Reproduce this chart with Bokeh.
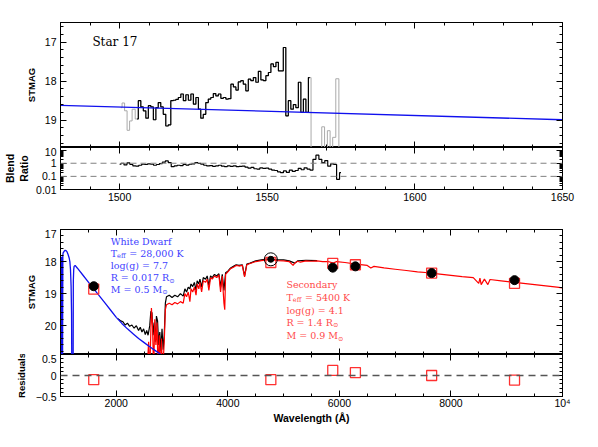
from bokeh.plotting import figure
from bokeh.layouts import column
from bokeh.models import (Range1d, LinearAxis, LogAxis, FixedTicker, Grid,
                          SingleIntervalTicker, Span, Label, ColumnDataSource)
from bokeh.embed import file_html
from bokeh.resources import INLINE

# ---------------- data ----------------
# HST UV spectrum (top panel), STMAG per bin
hst_wave = [1505.9, 1506.8, 1507.6, 1508.5, 1509.3, 1510.2, 1511.0, 1511.9, 1512.7, 1513.5,
            1514.4, 1515.2, 1516.1, 1516.9, 1517.8, 1518.6, 1519.5, 1520.3, 1521.2, 1522.0,
            1522.9, 1523.7, 1524.6, 1525.4, 1526.3, 1527.1, 1527.9, 1528.8, 1529.6, 1530.5,
            1531.3, 1532.2, 1533.0, 1533.9, 1534.7, 1535.6, 1536.4, 1537.3, 1538.1, 1539.0,
            1539.8, 1540.6, 1541.5, 1542.3, 1543.2, 1544.0, 1544.9, 1545.7, 1546.6, 1547.4,
            1548.3, 1549.1, 1550.0, 1550.8, 1551.7, 1552.5, 1553.4, 1554.2, 1555.0, 1555.9,
            1556.7, 1557.6, 1558.4, 1559.3, 1560.1, 1561.0, 1561.8, 1562.7, 1563.5, 1564.4]
hst_mag = [18.97, 18.50, 18.66, 18.76, 18.95, 18.63, 18.66, 18.99, 18.68, 18.55,
           18.66, 18.85, 19.15, 19.12, 18.50, 18.49, 18.47, 18.42, 18.33, 18.50,
           18.35, 18.49, 18.33, 18.59, 18.42, 18.72, 18.95, 18.85, 18.55, 18.46,
           18.42, 18.32, 18.38, 18.33, 18.44, 18.42, 18.46, 18.45, 18.08, 18.15,
           18.23, 18.02, 17.99, 18.08, 18.25, 17.95, 17.99, 17.91, 18.03, 17.75,
           17.97, 17.99, 17.86, 17.78, 17.56, 17.63, 17.52, 17.74, 17.74, 17.14,
           18.89, 18.50, 18.72, 18.60, 18.68, 18.03, 18.80, 18.46, 18.80, 17.91]
# masked (grey) bins at both ends
grey_left_wave = [1500.4, 1501.3, 1502.1, 1503.0, 1503.8, 1504.7]
grey_left_mag = [18.68, 18.56, 18.76, 19.26, 19.02, 18.72]
grey_right_wave = [1565.3, 1566.2, 1567.1, 1568.0, 1568.95, 1569.9, 1570.85, 1571.75,
                   1572.6, 1573.85, 1574.7]
grey_right_mag = [21.5, 21.5, 21.5, 21.5, 19.17, 21.5, 19.27, 21.5, 19.44, 17.94, 21.5]
# white dwarf model in the UV window
uv_wd_wave = [1480, 1650]
uv_wd_mag = [18.62, 18.99]

# blend ratio
ratio_wave = [1500, 1501, 1502, 1503, 1504, 1505, 1506, 1507, 1508, 1509, 1510, 1511, 1512,
              1513, 1514, 1515, 1516, 1517, 1518, 1519, 1520, 1521, 1522, 1523, 1524, 1525,
              1526, 1527, 1528, 1529, 1530, 1531, 1532, 1533, 1534, 1535, 1536, 1537, 1538,
              1539, 1540, 1541, 1542, 1543, 1544, 1545, 1546, 1547, 1548, 1549, 1550, 1551,
              1552, 1553, 1554, 1555, 1556, 1557, 1558, 1559, 1560, 1561, 1562, 1563, 1564,
              1565, 1566, 1567, 1568, 1569, 1570, 1571, 1572, 1573, 1574, 1575]
ratio_val = [0.84, 1.0, 0.75, 1.05, 0.8, 0.62, 0.6, 0.7, 0.84, 0.8, 0.9, 0.84, 0.7,
             0.8, 0.95, 1.2, 1.5, 1.1, 0.55, 0.62, 0.7, 0.65, 0.8, 0.72, 0.84, 0.9,
             1.1, 1.0, 0.85, 0.7, 0.62, 0.66, 0.58, 0.62, 0.7, 0.6, 0.56, 0.62, 0.58,
             0.64, 0.55, 0.58, 0.6, 0.5, 0.42, 0.48, 0.38, 0.36, 0.44, 0.4, 0.42, 0.36,
             0.3, 0.28, 0.22, 0.19, 0.26, 0.2, 0.3, 0.24, 0.28, 0.4, 0.32, 0.45, 0.36,
             0.3, 2.0, 4.1, 2.0, 1.1, 1.6, 0.6, 0.9, 0.8, 0.06, 0.19]
ratio_levels = [1, 0.1]

# white dwarf model SED
wd_wave = [1000, 1004, 1008, 1012, 1016, 1020, 1025, 1030, 1036, 1042,
           1047, 1065, 1083, 1100, 1118, 1136, 1154, 1168, 1179, 1190,
           1198, 1203, 1226, 1230, 1237, 1244, 1262, 1300, 1400, 1500,
           1600, 1700, 1800, 1900, 2000, 2100, 2200, 2300, 2400, 2500,
           2600, 2700, 2800, 2850]
wd_mag = [21.5, 18.0, 21.5, 17.9, 21.5, 17.85, 21.5, 17.85, 21.5, 17.8,
          17.73, 17.68, 17.65, 17.66, 17.70, 17.78, 17.88, 18.0, 18.25, 18.77,
          19.6, 21.5, 21.5, 18.6, 18.25, 18.15, 18.12, 18.2, 18.42, 18.64,
          18.86, 19.08, 19.3, 19.52, 19.74, 19.93, 20.1, 20.25, 20.4, 20.53,
          20.66, 20.78, 20.9, 21.0]

# composite (observed) spectrum
comp_wave = [2030, 2080, 2120, 2160, 2200, 2240, 2280, 2320, 2360, 2400,
             2430, 2460, 2490, 2520, 2545, 2570, 2600, 2620, 2640, 2660,
             2680, 2700, 2720, 2740, 2760, 2780, 2800, 2820, 2840, 2860,
             2880, 2900, 2950, 3000, 3050, 3100, 3150, 3200, 3230, 3260,
             3290, 3320, 3340, 3370, 3400, 3430, 3450, 3480, 3500, 3530,
             3560, 3600, 3630, 3660, 3690, 3720, 3760, 3800, 3840, 3870,
             3900, 3930, 3960, 4000, 4050, 4100, 4150, 4200, 4260, 4300,
             4340, 4400, 4500, 4600, 4700, 4800, 4900, 5000, 5100, 5200,
             5250, 5400, 5600]
comp_mag = [19.78, 19.85, 19.88, 19.98, 19.92, 20.02, 19.98, 20.08, 20.0, 20.15,
            20.05, 20.2, 20.1, 20.28, 20.15, 20.3, 20.0, 19.55, 19.6, 20.3,
            19.9, 20.5, 19.7, 19.85, 20.6, 20.2, 20.8, 20.1, 20.75, 20.3,
            19.3, 19.1, 19.05, 19.12, 19.05, 19.1, 19.0, 19.08, 18.85, 18.95,
            18.8, 18.85, 18.7, 18.78, 18.65, 18.9, 18.6, 18.7, 18.55, 18.8,
            18.5, 18.55, 18.45, 18.75, 18.45, 18.5, 18.4, 18.45, 18.38, 18.8,
            18.4, 18.9, 18.35, 18.3, 18.2, 18.15, 18.1, 18.12, 18.1, 18.45,
            18.08, 18.05, 17.98, 17.95, 17.92, 17.92, 17.95, 17.95, 17.98, 18.05,
            17.98, 17.96, 17.97]

# secondary star model SED
sec_wave = [2550, 2580, 2600, 2630, 2650, 2670, 2690, 2710, 2730, 2750,
            2770, 2790, 2810, 2830, 2860, 2880, 2900, 2950, 3000, 3050,
            3100, 3150, 3200, 3230, 3260, 3290, 3320, 3340, 3370, 3400,
            3430, 3450, 3480, 3500, 3530, 3560, 3600, 3630, 3660, 3690,
            3720, 3760, 3800, 3840, 3870, 3900, 3930, 3945, 3960, 4000,
            4050, 4100, 4150, 4200, 4260, 4300, 4340, 4400, 4500, 4600,
            4700, 4800, 4900, 5000, 5100, 5170, 5200, 5250, 5300, 5400,
            5500, 5600, 5700, 5800, 5890, 5950, 6100, 6300, 6500, 6563,
            6620, 6800, 7000, 7200, 7400, 7600, 7800, 8000, 8200, 8400,
            8498, 8520, 8542, 8600, 8662, 8700, 8900, 9100, 9300, 9500,
            9700, 9900, 10000]
sec_mag = [21.5, 20.5, 21.5, 19.45, 20.0, 21.5, 19.8, 20.6, 19.9, 21.5,
           20.3, 21.5, 20.4, 21.5, 20.5, 19.5, 19.35, 19.3, 19.35, 19.28,
           19.32, 19.25, 19.3, 19.0, 19.1, 18.95, 19.25, 18.85, 18.95, 18.8,
           19.05, 18.7, 18.85, 18.65, 18.95, 18.6, 18.65, 18.55, 18.9, 18.5,
           18.55, 18.45, 18.5, 18.42, 18.95, 18.45, 19.3, 19.5, 18.4, 18.32,
           18.22, 18.18, 18.12, 18.14, 18.12, 18.48, 18.1, 18.06, 18.0, 17.97,
           17.95, 17.95, 17.97, 17.98, 18.0, 18.12, 18.05, 17.99, 18.02, 17.98,
           17.99, 17.98, 18.0, 18.0, 18.05, 18.0, 18.03, 18.08, 18.12, 18.2,
           18.15, 18.2, 18.24, 18.28, 18.32, 18.35, 18.39, 18.43, 18.47, 18.5,
           18.68, 18.52, 18.72, 18.55, 18.72, 18.56, 18.6, 18.64, 18.68, 18.72,
           18.76, 18.8, 18.82]

# photometry
phot_wave = [1596, 4771, 5881, 6287, 7654, 9140]
phot_obs = [18.77, 17.93, 18.19, 18.15, 18.36, 18.58]
phot_model = [18.86, 18.03, 18.06, 18.10, 18.36, 18.68]
phot_resid = [-0.10, -0.10, 0.12, 0.07, 0.0, -0.11]
phot_ring = [False, True, False, False, False, False]

# ---------------- styling helpers ----------------
SANS = "Liberation Sans"
SERIF = "DejaVu Serif"
FW = 502


def style_axis(ax, show=True, size="10.5px"):
    ax.major_tick_in = 6
    ax.major_tick_out = 0
    ax.minor_tick_in = 3
    ax.minor_tick_out = 0
    ax.axis_line_color = "black"
    ax.major_tick_line_color = "black"
    ax.minor_tick_line_color = "black"
    ax.major_label_text_font = SANS
    ax.major_label_text_color = "black"
    ax.axis_label_text_font = SANS
    ax.axis_label_text_font_style = "bold"
    ax.axis_label_text_color = "black"
    if show:
        ax.major_label_text_font_size = size
        ax.major_label_standoff = 4
    else:
        ax.major_label_text_font_size = "1px"
        ax.major_label_text_alpha = 0
        ax.major_label_standoff = 0
        ax.axis_label = None


def make_fig(xr, yr, fh, xt, yt, ylog=False, mbt=0, mbb=0, show_x=False):
    p = figure(x_range=xr, y_range=yr, frame_width=FW, frame_height=fh,
               y_axis_type="log" if ylog else "linear",
               x_axis_location=None, y_axis_location=None,
               toolbar_location=None, output_backend="svg",
               min_border_left=53, min_border_right=20,
               min_border_top=mbt, min_border_bottom=mbb)
    for r in list(p.center):
        if isinstance(r, Grid):
            r.visible = False
    p.outline_line_color = "black"
    p.background_fill_color = "white"
    p.border_fill_color = "white"
    axes = {}
    for side in ("below", "left", "above", "right"):
        if side in ("below", "above"):
            ax = LinearAxis(ticker=xt)
        else:
            ax = LogAxis(ticker=yt) if ylog else LinearAxis(ticker=yt)
        style_axis(ax, show=(side == "left") or (side == "below" and show_x))
        p.add_layout(ax, side)
        axes[side] = ax
    return p, axes


x_uv = SingleIntervalTicker(interval=50, num_minor_ticks=5)
x_sed = SingleIntervalTicker(interval=2000, num_minor_ticks=4)
y_mag = SingleIntervalTicker(interval=1, num_minor_ticks=5)
y_res = SingleIntervalTicker(interval=0.5, num_minor_ticks=5)
log_minor = [m * d for d in (0.01, 0.1, 1, 10) for m in range(2, 10)]
y_log = FixedTicker(ticks=[0.01, 0.1, 1, 10], minor_ticks=log_minor)

# ---------------- panel A: UV spectrum ----------------
pA, axA = make_fig(Range1d(1480, 1650), Range1d(19.7, 16.5), 125, x_uv, y_mag, mbt=22)
axA["left"].axis_label = "STMAG"
axA["left"].axis_label_text_font_size = "9.5px"
axA["left"].axis_label_standoff = 5

pA.step(grey_left_wave + hst_wave + grey_right_wave,
        grey_left_mag + hst_mag + grey_right_mag,
        mode="center", line_color="#aaaaaa", line_width=1)
pA.step(hst_wave, hst_mag, mode="center", line_color="black", line_width=1.2)
pA.line(uv_wd_wave, uv_wd_mag, line_color="#1010ee", line_width=1.3)
pA.add_layout(Label(x=1490.8, y=17.0, text="Star 17", text_font=SERIF,
                    text_font_size="12px", text_baseline="middle",
                    text_color="black"))

# ---------------- panel B: blend ratio ----------------
pB, axB = make_fig(Range1d(1480, 1650), Range1d(0.01, 15.8), 42, x_uv, y_log,
                   ylog=True, mbb=40, show_x=True)
axB["left"].major_label_overrides = {0.01: "0.01", 0.1: "0.1", 1: "1", 10: "10"}
axB["left"].axis_label = "Ratio"
axB["left"].axis_label_text_font_size = "10.5px"
axB["left"].axis_label_standoff = 3
axB["below"].major_label_standoff = 3
blend_ax = LogAxis(ticker=FixedTicker(ticks=[1]))
style_axis(blend_ax, show=False)
blend_ax.axis_label = "Blend"
blend_ax.axis_line_color = None
blend_ax.major_tick_in = 0
blend_ax.minor_tick_in = 0
blend_ax.major_tick_line_color = None
blend_ax.axis_label_standoff = 0
blend_ax.axis_label_text_font_size = "10.5px"
pB.add_layout(blend_ax, "left")
for lv in ratio_levels:
    pB.add_layout(Span(location=lv, dimension="width", line_color="#808080",
                       line_dash="6 4", line_width=1))
pB.step(ratio_wave, ratio_val, mode="center", line_color="black", line_width=1.2)

# ---------------- panel C: SED ----------------
pC, axC = make_fig(Range1d(1000, 10000), Range1d(20.9, 17.0), 125, x_sed, y_mag)
axC["left"].axis_label = "STMAG"
axC["left"].axis_label_text_font_size = "9.5px"
axC["left"].axis_label_standoff = 5

pC.line(comp_wave, comp_mag, line_color="black", line_width=1.2)
pC.line(sec_wave, sec_mag, line_color="#ff0000", line_width=1.2)
pC.line(wd_wave, wd_mag, line_color="#1010ee", line_width=1.3)

phot_src = ColumnDataSource(dict(
    x=phot_wave, obs=phot_obs, mod=phot_model, res=phot_resid,
    dot=[6 if r else 9 for r in phot_ring]))
ring_src = ColumnDataSource(dict(
    x=[w for w, r in zip(phot_wave, phot_ring) if r],
    y=[o for o, r in zip(phot_obs, phot_ring) if r]))
pC.scatter("x", "mod", source=phot_src, marker="square", size=10,
           fill_color=None, line_color="#ff3030", line_width=1.3)
pC.scatter("x", "obs", source=phot_src, marker="circle", size="dot",
           fill_color="black", line_color="black")
pC.scatter("x", "y", source=ring_src, marker="circle", size=13,
           fill_color=None, line_color="black", line_width=1)

BLUE_T = "#4040ff"
RED_T = "#ff4a4a"


def rich(p, x, y, parts, color):
    # parts: list of (text, x_offset_px, is_sub)
    for txt, dx, sub in parts:
        p.add_layout(Label(x=x, y=y, text=txt, x_offset=dx,
                           y_offset=-3 if sub else 0,
                           text_font=SERIF,
                           text_font_size="6.5px" if sub else "9.5px",
                           text_baseline="middle", text_color=color))


wd_x = 1900
rich(pC, wd_x, 17.37, [("White Dwarf", 0, False)], BLUE_T)
rich(pC, wd_x, 17.74, [("T", 0, False), ("eff", 6.4, True),
                       ("= 28,000 K", 18.5, False)], BLUE_T)
rich(pC, wd_x, 18.12, [("log(g) = 7.7", 0, False)], BLUE_T)
rich(pC, wd_x, 18.50, [("R = 0.017 R", 0, False), ("\u2299", 58.5, True)], BLUE_T)
rich(pC, wd_x, 18.86, [("M = 0.5 M", 0, False), ("\u2299", 51.5, True)], BLUE_T)

sec_x = 5050
rich(pC, sec_x, 18.73, [("Secondary", 0, False)], RED_T)
rich(pC, sec_x, 19.12, [("T", 0, False), ("eff", 6.4, True),
                        ("= 5400 K", 18.5, False)], RED_T)
rich(pC, sec_x, 19.52, [("log(g) = 4.1", 0, False)], RED_T)
rich(pC, sec_x, 19.90, [("R = 1.4 R", 0, False), ("\u2299", 46.5, True)], RED_T)
rich(pC, sec_x, 20.31, [("M = 0.9 M", 0, False), ("\u2299", 51.5, True)], RED_T)

# ---------------- panel D: residuals ----------------
pD, axD = make_fig(Range1d(1000, 10000), Range1d(-0.5, 0.5), 42, x_sed, y_res,
                   show_x=True)
axD["below"].major_label_overrides = {10000: "10\u2074"}
axD["below"].major_label_standoff = 0
axD["below"].axis_label = "Wavelength (\u00c5)"
axD["below"].axis_label_text_font_size = "10.5px"
axD["below"].axis_label_standoff = 0
axD["left"].major_label_overrides = {-0.5: "\u22120.5", 0: "0", 0.5: "0.5"}
axD["left"].axis_label = "Residuals"
axD["left"].axis_label_text_font_size = "9.5px"
axD["left"].axis_label_standoff = 6
pD.add_layout(Span(location=0, dimension="width", line_color="#555555",
                   line_dash="7 5", line_width=1.5))
pD.scatter("x", "res", source=phot_src, marker="square", size=10,
           fill_color=None, line_color="#ff3030", line_width=1.3)

layout = column(pA, pB, pC, pD, spacing=0)
open("out.html", "w").write(file_html(layout, INLINE))
